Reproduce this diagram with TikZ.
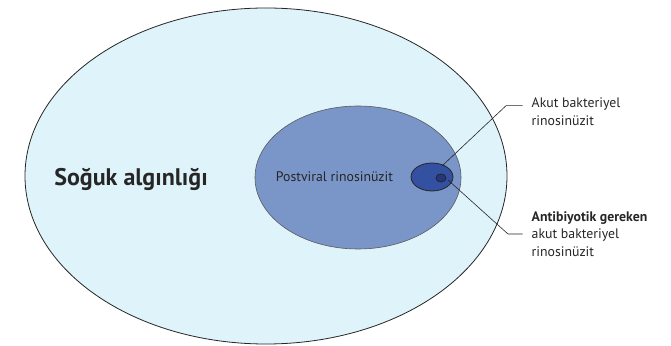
\documentclass[tikz,border=0pt]{standalone}
\usepackage{fontspec}
\setmainfont{PT Sans}
\usetikzlibrary{shapes.geometric}
\definecolor{coldfill}{HTML}{DFF3FA}
\definecolor{postfill}{HTML}{7A96C8}
\definecolor{acutefill}{HTML}{3450A0}
\definecolor{abxfill}{HTML}{24367F}
\definecolor{rimgray}{HTML}{5A5A5A}
\tikzset{
  zone/.style={ellipse, inner sep=0pt, draw=black!85, line width=0.8pt},
  leader/.style={draw=black!85, line width=0.6pt},
  callout/.style={anchor=west, align=left, inner sep=0pt, font=\fontsize{13.8}{17.5}\selectfont, text=black!85}
}
\begin{document}
\begin{tikzpicture}[x=1pt,y=1pt]
\useasboundingbox (0,0) rectangle (671,345);
% nested sets
\node[zone, fill=coldfill, minimum width=482pt, minimum height=336pt] (cold) at (266,169) {};
\node[zone, fill=postfill, draw=rimgray, line width=0.6pt, minimum width=206pt, minimum height=143pt] (post) at (358,167.5) {};
\node[zone, fill=acutefill, minimum width=42pt, minimum height=28pt] (acute) at (432,168) {};
\node[zone, fill=abxfill, minimum width=10pt, minimum height=8pt] (abx) at (441,167) {};
% set names
\node[font=\bfseries\fontsize{24}{28}\selectfont, text=black!85] (coldname) at (131,166) {Soğuk algınlığı};
\node[font=\fontsize{13.8}{16}\selectfont, text=black!85] (postname) at (334.5,168) {Postviral rinosinüzit};
% callouts
\coordinate (a0) at (442,179);
\coordinate (a1) at (506,239.3);
\coordinate (a2) at (522.7,239.3);
\coordinate (b0) at (448,165);
\coordinate (b1) at (508,111);
\coordinate (b2) at (522.7,111);
\draw[leader] (a0) -- (a1) -- (a2);
\draw[leader] (b0) -- (b1) -- (b2);
\node[callout] (acutelab) at (531.5,233.5) {Akut bakteriyel\\rinosinüzit};
\node[callout] (abxlab) at (531.5,111) {\textbf{Antibiyotik gereken}\\akut bakteriyel\\rinosinüzit};
\end{tikzpicture}
\end{document}
